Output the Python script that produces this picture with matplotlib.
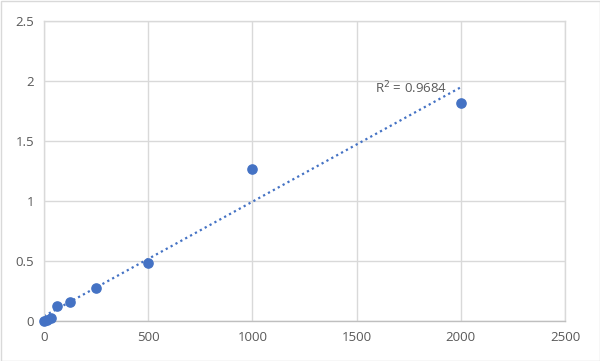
import numpy as np
import matplotlib
matplotlib.use("Agg")
import matplotlib.pyplot as plt

conc = [0, 15.6, 31.25, 62.5, 125, 250, 500, 1000, 2000]
od = [0.0, 0.01, 0.025, 0.125, 0.16, 0.275, 0.48, 1.27, 1.82]
x_ticks = [0, 500, 1000, 1500, 2000, 2500]
y_ticks = [0, 0.5, 1, 1.5, 2, 2.5]
y_labels = ["0", "0.5", "1", "1.5", "2", "2.5"]
r2_text = "R$^2$ = 0.9684"

blue = "#4472C4"
grid = "#D9D9D9"
txt = "#595959"

fig = plt.figure(figsize=(6.0, 3.61), dpi=100)
fig.patch.set_facecolor("white")
ax = fig.add_axes([44/600, 1-321/361, (565-44)/600, (321-21)/361])

ax.set_xlim(0, 2500)
ax.set_ylim(0, 2.5)
ax.set_xticks(x_ticks)
ax.set_yticks(y_ticks)
ax.set_yticklabels(y_labels)
ax.grid(True, color=grid, linewidth=1)
ax.set_axisbelow(True)
for s in ax.spines.values():
    s.set_color(grid)
    s.set_linewidth(1)
ax.spines["bottom"].set_color("#BFBFBF")
ax.tick_params(length=0, labelsize=9.5, colors=txt, pad=7)
for lab in ax.get_xticklabels() + ax.get_yticklabels():
    lab.set_fontfamily("Open Sans")

x = np.array(conc)
y = np.array(od)
m, b = np.polyfit(x, y, 1)
xs = np.array([0, 2000])
ax.plot(xs, m*xs + b, linestyle=(0, (1, 1.5)), color=blue, linewidth=1.6, zorder=2)
ax.scatter(x, y, s=44, color=blue, zorder=3, clip_on=False)

ax.text(1590, 1.9, r2_text, fontsize=9.5, color=txt, family="Open Sans")

border = plt.Rectangle((0.5/600, 0.5/361), 599/600, 360/361, transform=fig.transFigure,
                       fill=False, edgecolor="#D9D9D9", linewidth=1)
fig.patches.append(border)

fig.savefig("out.png", dpi=100)
